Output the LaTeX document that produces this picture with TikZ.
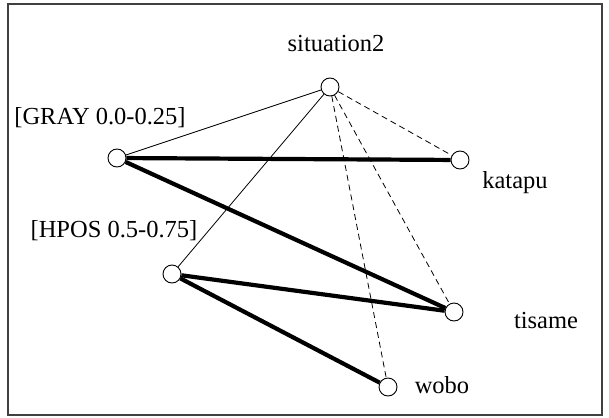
\documentclass[tikz,border=0pt]{standalone}
\usepackage{fontspec}
\setmainfont{Liberation Serif}
\begin{document}
\begin{tikzpicture}[x=1pt,y=-1pt,
  vert/.style={circle,draw,line width=0.9pt,minimum size=18pt,inner sep=0pt,fill=white},
  lbl/.style={anchor=base,inner sep=0pt,font=\fontsize{24.5}{29}\selectfont},
  thinedge/.style={line width=0.8pt},
  dashedge/.style={line width=0.8pt,dash pattern=on 6pt off 4pt},
  thickedge/.style={line width=4.2pt}]
\useasboundingbox (0,0) rectangle (609,417);
\draw[line width=1.2pt,draw=black!75] (8,4) rectangle (602,415);
\node[vert] (s) at (330,87) {};
\node[vert] (g) at (117,158) {};
\node[vert] (k) at (460,160) {};
\node[vert] (h) at (172,274) {};
\node[vert] (t) at (454,312) {};
\node[vert] (w) at (388,387) {};
\draw[thinedge] (s) -- (g);
\draw[thinedge] (s) -- (h);
\draw[dashedge] (s) -- (k);
\draw[dashedge] (s) -- (t);
\draw[dashedge] (s) -- (w);
\draw[thickedge] (g) -- (k);
\draw[thickedge] (g) -- (t);
\draw[thickedge] (h) -- (t);
\draw[thickedge] (h) -- (w);
\node[lbl] (ls) at (336,52) {situation2};
\node[lbl] (lk) at (515,188) {katapu};
\node[lbl] (lt) at (546,328) {tisame};
\node[lbl] (lw) at (442,393) {wobo};
\node[lbl] (lg) at (100,124) {[GRAY 0.0-0.25]};
\node[lbl] (lh) at (114,237) {[HPOS 0.5-0.75]};
\end{tikzpicture}
\end{document}
